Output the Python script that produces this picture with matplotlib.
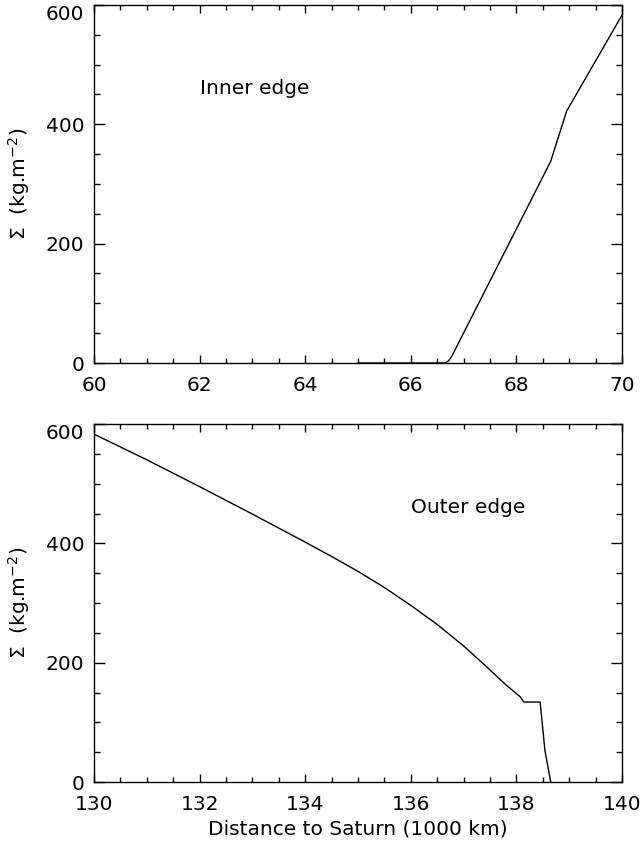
import matplotlib
matplotlib.use("Agg")
import matplotlib.pyplot as plt
import matplotlib.transforms as mtransforms
from matplotlib.ticker import MultipleLocator

# surface density profiles across the two ring edges
inner_r = [65.0, 66.65, 66.72, 66.78, 68.65, 68.95, 70.0]
inner_sigma = [0, 0, 4, 12, 338, 422, 583]

outer_r = [130.0, 131.0, 132.0, 133.0, 134.0, 134.5, 135.0, 135.5, 136.0,
           136.5, 137.0, 137.4, 137.8, 138.0, 138.07, 138.14, 138.45,
           138.54, 138.65]
outer_sigma = [583, 540, 495, 449, 402, 378, 353, 326, 296,
               264, 228, 196, 163, 148, 143, 134, 134,
               53, 0]

inner_xlim = (60, 70)
outer_xlim = (130, 140)
ylim = (0, 600)
xticks_inner = [60, 62, 64, 66, 68, 70]
xticks_outer = [130, 132, 134, 136, 138, 140]
yticks = [0, 200, 400, 600]

plt.rcParams['font.family'] = 'DejaVu Sans'
plt.rcParams['font.size'] = 14.5

fig = plt.figure(figsize=(6.41, 8.46), dpi=100)
W, H = 641, 846
left, right = 94 / W, 622 / W
ax1 = fig.add_axes([left, 1 - 363 / H, right - left, 358 / H])
ax2 = fig.add_axes([left, 1 - 782 / H, right - left, 358 / H])


def style(ax, xlim, xticks):
    ax.set_xlim(*xlim)
    ax.set_ylim(*ylim)
    ax.set_xticks(xticks)
    ax.set_yticks(yticks)
    ax.xaxis.set_minor_locator(MultipleLocator(0.5))
    ax.yaxis.set_minor_locator(MultipleLocator(50))
    ax.tick_params(which='both', direction='in', top=True, right=True,
                   width=1.0, colors='black')
    ax.tick_params(axis='x', which='major', length=6, pad=9)
    ax.tick_params(axis='x', which='minor', length=3.5)
    ax.tick_params(axis='y', which='major', length=8, pad=7)
    ax.tick_params(axis='y', which='minor', length=4)
    for s in ax.spines.values():
        s.set_linewidth(1.0)
    ax.set_ylabel(r'$\Sigma$  (kg.m$^{-2}$)')
    ax.yaxis.set_label_coords(-0.118, 0.5)
    # nudge the top y label down so it stays inside the frame
    fig.canvas.draw()
    lab = ax.get_yticklabels()[-1]
    lab.set_transform(lab.get_transform() +
                      mtransforms.ScaledTranslation(0, -7 / 100, fig.dpi_scale_trans))


ax1.plot(inner_r, inner_sigma, color='black', lw=1.0)
style(ax1, inner_xlim, xticks_inner)
ax1.text(62.0, 460, 'Inner edge', ha='left', va='center')

ax2.plot(outer_r, outer_sigma, color='black', lw=1.0)
style(ax2, outer_xlim, xticks_outer)
ax2.text(136.0, 460, 'Outer edge', ha='left', va='center')
ax2.set_xlabel('Distance to Saturn (1000 km)', labelpad=4)

fig.savefig('out.png', dpi=100)
